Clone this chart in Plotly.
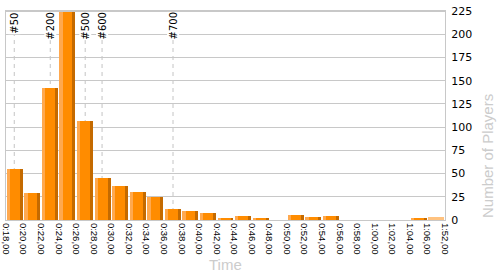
import numpy as np
import plotly.graph_objects as go

# Bin edge labels (time m:ss,cc)
edge_labels = ["0:18,00", "0:20,00", "0:22,00", "0:24,00", "0:26,00", "0:28,00",
               "0:30,00", "0:32,00", "0:34,00", "0:36,00", "0:38,00", "0:40,00",
               "0:42,00", "0:44,00", "0:46,00", "0:48,00", "0:50,00", "0:52,00",
               "0:54,00", "0:56,00", "0:58,00", "1:00,00", "1:02,00", "1:04,00",
               "1:06,00", "1:52,00"]
# Number of players per bin
counts = [55, 29, 142, 225, 107, 45, 37, 30, 25, 12, 10, 8, 2, 4, 2, 0,
          5, 3, 4, 0, 0, 0, 0, 2, 3]
# Rank markers (label, time in seconds)
rank_labels = ["#50", "#200", "#500", "#600", "#700"]
rank_times = [18.94, 23.04, 27.02, 28.94, 37.02]


def to_sec(s):
    m, rest = s.split(":")
    return int(m) * 60 + float(rest.replace(",", "."))


edge_sec = np.array([to_sec(s) for s in edge_labels])
edge_idx = np.arange(len(edge_labels))
bin_left = edge_idx[:-1]
rank_pos = np.interp(rank_times, edge_sec, edge_idx)

n = len(counts)
main_col = ["#FF8C00"] * (n - 1) + ["#FFC27F"]
light_col = ["#FFA94F"] * (n - 1) + ["#FFC27F"]
dark_col = ["#C46A00"] * (n - 1) + ["#FFC27F"]

fig = go.Figure()
fig.add_trace(go.Bar(x=bin_left, y=counts, width=0.91, offset=0.045,
                     marker=dict(color=main_col, line=dict(width=0)),
                     hoverinfo="skip"))
fig.add_trace(go.Bar(x=bin_left, y=counts, width=0.19, offset=0.045,
                     marker=dict(color=light_col, line=dict(width=0)),
                     hoverinfo="skip"))
fig.add_trace(go.Bar(x=bin_left, y=counts, width=0.17, offset=0.785,
                     marker=dict(color=dark_col, line=dict(width=0)),
                     hoverinfo="skip"))

shapes = []
annotations = []
for lab, p in zip(rank_labels, rank_pos):
    shapes.append(dict(type="line", xref="x", yref="y", x0=p, x1=p, y0=0, y1=225,
                       line=dict(color="#c4c4c4", width=1, dash="4px,4px"),
                       layer="below"))
    annotations.append(dict(x=p, y=224, xref="x", yref="y", text=lab,
                            showarrow=False, textangle=-90, yanchor="top",
                            xanchor="center", bgcolor="white", borderpad=0,
                            font=dict(family="DejaVu Sans", size=10, color="#000")))
shapes.append(dict(type="line", xref="paper", yref="paper", x0=0, x1=1, y0=1, y1=1,
                   line=dict(color="#c8c8c8", width=2)))

annotations.append(dict(x=1, y=0, xref="paper", yref="paper", xshift=42,
                        text="Number of Players", showarrow=False, textangle=-90,
                        xanchor="center", yanchor="bottom",
                        font=dict(family="Liberation Sans", size=15, color="#cccccc")))
annotations.append(dict(x=0.5, y=0, xref="paper", yref="paper", yshift=-34,
                        text="Time", showarrow=False, xanchor="center", yanchor="top",
                        font=dict(family="Liberation Sans", size=15, color="#cccccc")))

fig.update_layout(
    width=500, height=275,
    margin=dict(l=6, r=55, t=11, b=55),
    paper_bgcolor="white", plot_bgcolor="white",
    barmode="overlay", bargap=0, showlegend=False,
    shapes=shapes, annotations=annotations,
    xaxis=dict(range=[-0.0001, n], tickmode="array", tickvals=edge_idx,
               ticktext=edge_labels, ticklabeloverflow="allow",
               tickangle=90, showgrid=False, zeroline=False, automargin=False,
               showline=True, mirror=True, linecolor="#c8c8c8", linewidth=1,
               ticks="", tickfont=dict(family="Liberation Sans", size=9.5, color="#000")),
    yaxis=dict(range=[0, 225], dtick=25, side="right", showgrid=True, automargin=False,
               gridcolor="#c8c8c8", zeroline=False, showline=True, mirror=True,
               linecolor="#c8c8c8", linewidth=1, ticks="outside", ticklen=3,
               tickcolor="white",
               tickfont=dict(family="DejaVu Sans", size=11, color="#000")),
)

fig.write_html("out.html")
